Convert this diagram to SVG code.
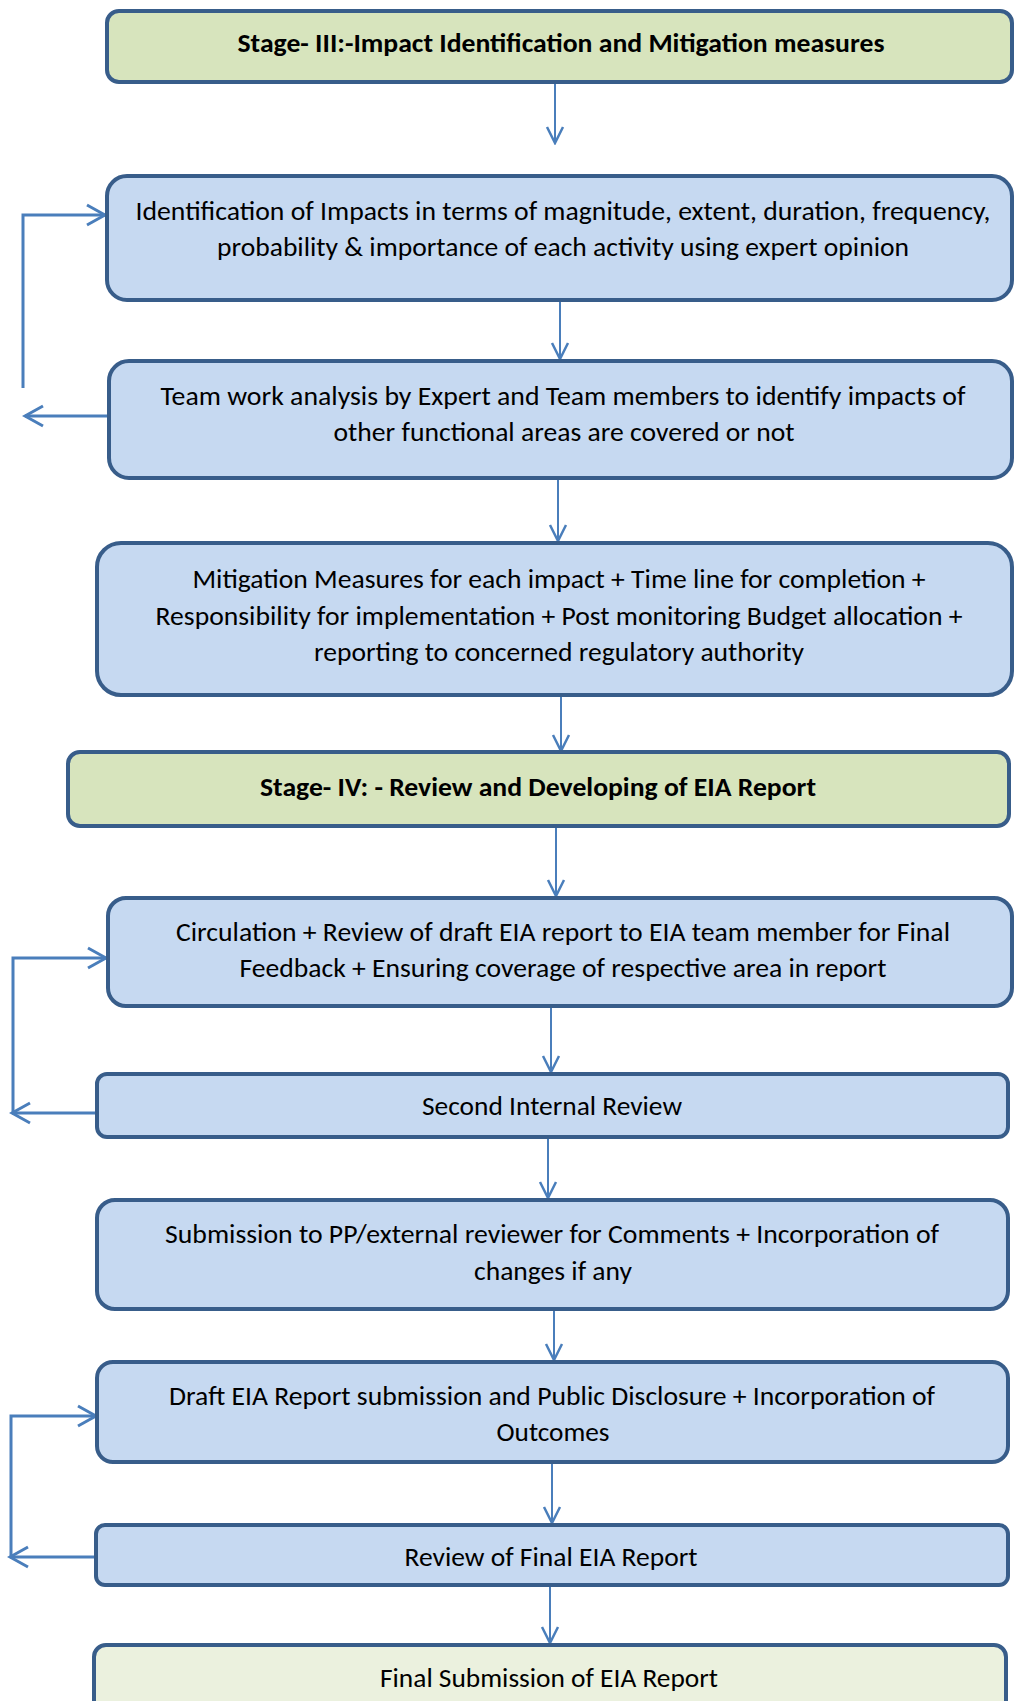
<svg xmlns="http://www.w3.org/2000/svg" width="1014" height="1701" viewBox="0 0 1014 1701">
<style>
.box{stroke:#385D8A;stroke-width:4}
.stage{fill:#D7E4BD}
.step{fill:#C6D9F1}
.final{fill:#EBF1DE}
text{font-family:Carlito,"Liberation Sans",Arial,sans-serif;font-size:27px;fill:#000;text-anchor:middle}
.b{font-weight:bold}
.c{fill:none;stroke:#4A7EBB;stroke-width:2}
.fb{fill:none;stroke:#4A7EBB;stroke-width:3}
</style>
<defs>
<marker id="ah" markerUnits="userSpaceOnUse" viewBox="0 0 20 20" refX="18" refY="10" markerWidth="20" markerHeight="20" orient="auto">
<path d="M2,2 L18,10 L2,18" fill="none" stroke="#4A7EBB" stroke-width="2.5"/>
</marker>
<marker id="ahb" markerUnits="userSpaceOnUse" viewBox="0 0 24 24" refX="21" refY="12" markerWidth="24" markerHeight="24" orient="auto">
<path d="M3,2 L21,12 L3,22" fill="none" stroke="#4A7EBB" stroke-width="3"/>
</marker>
</defs>
<rect width="1014" height="1701" fill="#fff"/>
<g id="connectors">
<path class="c" d="M555,82 V143" marker-end="url(#ah)"/>
<path class="c" d="M560,300 V359" marker-end="url(#ah)"/>
<path class="c" d="M558,478 V541" marker-end="url(#ah)"/>
<path class="c" d="M561,695 V751" marker-end="url(#ah)"/>
<path class="c" d="M556,826 V896" marker-end="url(#ah)"/>
<path class="c" d="M551,1006 V1072" marker-end="url(#ah)"/>
<path class="c" d="M548,1137 V1198" marker-end="url(#ah)"/>
<path class="c" d="M554,1309 V1360" marker-end="url(#ah)"/>
<path class="c" d="M552,1462 V1523" marker-end="url(#ah)"/>
<path class="c" d="M550,1585 V1643" marker-end="url(#ah)"/>
<path class="fb" d="M107,416 H25" marker-end="url(#ahb)"/>
<path class="fb" d="M23,388 V215 H105" marker-end="url(#ahb)"/>
<path class="fb" d="M97,1113 H12" marker-end="url(#ahb)"/>
<path class="fb" d="M13,1113 V958 H106" marker-end="url(#ahb)"/>
<path class="fb" d="M97,1557 H10" marker-end="url(#ahb)"/>
<path class="fb" d="M11,1557 V1416 H96" marker-end="url(#ahb)"/>
</g>
<g id="stage3">
<rect class="box stage" x="107" y="11" width="905" height="71" rx="12"/>
<text class="b" x="561" y="52" textLength="647" lengthAdjust="spacingAndGlyphs">Stage- III:-Impact Identification and Mitigation measures</text>
</g>
<g id="identification">
<rect class="box step" x="107" y="176" width="905" height="124" rx="20"/>
<text x="563" y="220" textLength="855" lengthAdjust="spacingAndGlyphs">Identification of Impacts in terms of magnitude, extent, duration, frequency,</text>
<text x="563" y="256" textLength="692" lengthAdjust="spacingAndGlyphs">probability &amp; importance of each activity using expert opinion</text>
</g>
<g id="teamwork">
<rect class="box step" x="109" y="361" width="903" height="117" rx="20"/>
<text x="563" y="405" textLength="805" lengthAdjust="spacingAndGlyphs">Team work analysis by Expert and Team members to identify impacts of</text>
<text x="564" y="441" textLength="461" lengthAdjust="spacingAndGlyphs">other functional areas are covered or not</text>
</g>
<g id="mitigation">
<rect class="box step" x="97" y="543" width="915" height="152" rx="24"/>
<text x="559" y="588" textLength="733" lengthAdjust="spacingAndGlyphs">Mitigation Measures for each impact + Time line for completion +</text>
<text x="559" y="625" textLength="807" lengthAdjust="spacingAndGlyphs">Responsibility for implementation + Post monitoring Budget allocation +</text>
<text x="559" y="661" textLength="490" lengthAdjust="spacingAndGlyphs">reporting to concerned regulatory authority</text>
</g>
<g id="stage4">
<rect class="box stage" x="68" y="752" width="941" height="74" rx="12"/>
<text class="b" x="538" y="796" textLength="556" lengthAdjust="spacingAndGlyphs">Stage- IV: - Review and Developing of EIA Report</text>
</g>
<g id="circulation">
<rect class="box step" x="108" y="898" width="904" height="108" rx="18"/>
<text x="563" y="941" textLength="774" lengthAdjust="spacingAndGlyphs">Circulation + Review of draft EIA report to EIA team member for Final</text>
<text x="563" y="977" textLength="647" lengthAdjust="spacingAndGlyphs">Feedback + Ensuring coverage of respective area in report</text>
</g>
<g id="second-review">
<rect class="box step" x="97" y="1074" width="911" height="63" rx="10"/>
<text x="552" y="1115" textLength="260" lengthAdjust="spacingAndGlyphs">Second Internal Review</text>
</g>
<g id="submission">
<rect class="box step" x="97" y="1200" width="911" height="109" rx="18"/>
<text x="552" y="1243" textLength="774" lengthAdjust="spacingAndGlyphs">Submission to PP/external reviewer for Comments + Incorporation of</text>
<text x="553" y="1280" textLength="158" lengthAdjust="spacingAndGlyphs">changes if any</text>
</g>
<g id="draft-disclosure">
<rect class="box step" x="97" y="1362" width="911" height="100" rx="16"/>
<text x="552" y="1405" textLength="766" lengthAdjust="spacingAndGlyphs">Draft EIA Report submission and Public Disclosure + Incorporation of</text>
<text x="553" y="1441" textLength="113" lengthAdjust="spacingAndGlyphs">Outcomes</text>
</g>
<g id="final-review">
<rect class="box step" x="96" y="1525" width="912" height="60" rx="9"/>
<text x="551" y="1566" textLength="293" lengthAdjust="spacingAndGlyphs">Review of Final EIA Report</text>
</g>
<g id="final-submission">
<rect class="box final" x="94" y="1645" width="912" height="90" rx="12"/>
<text x="549" y="1687" textLength="338" lengthAdjust="spacingAndGlyphs">Final Submission of EIA Report</text>
</g>
</svg>
